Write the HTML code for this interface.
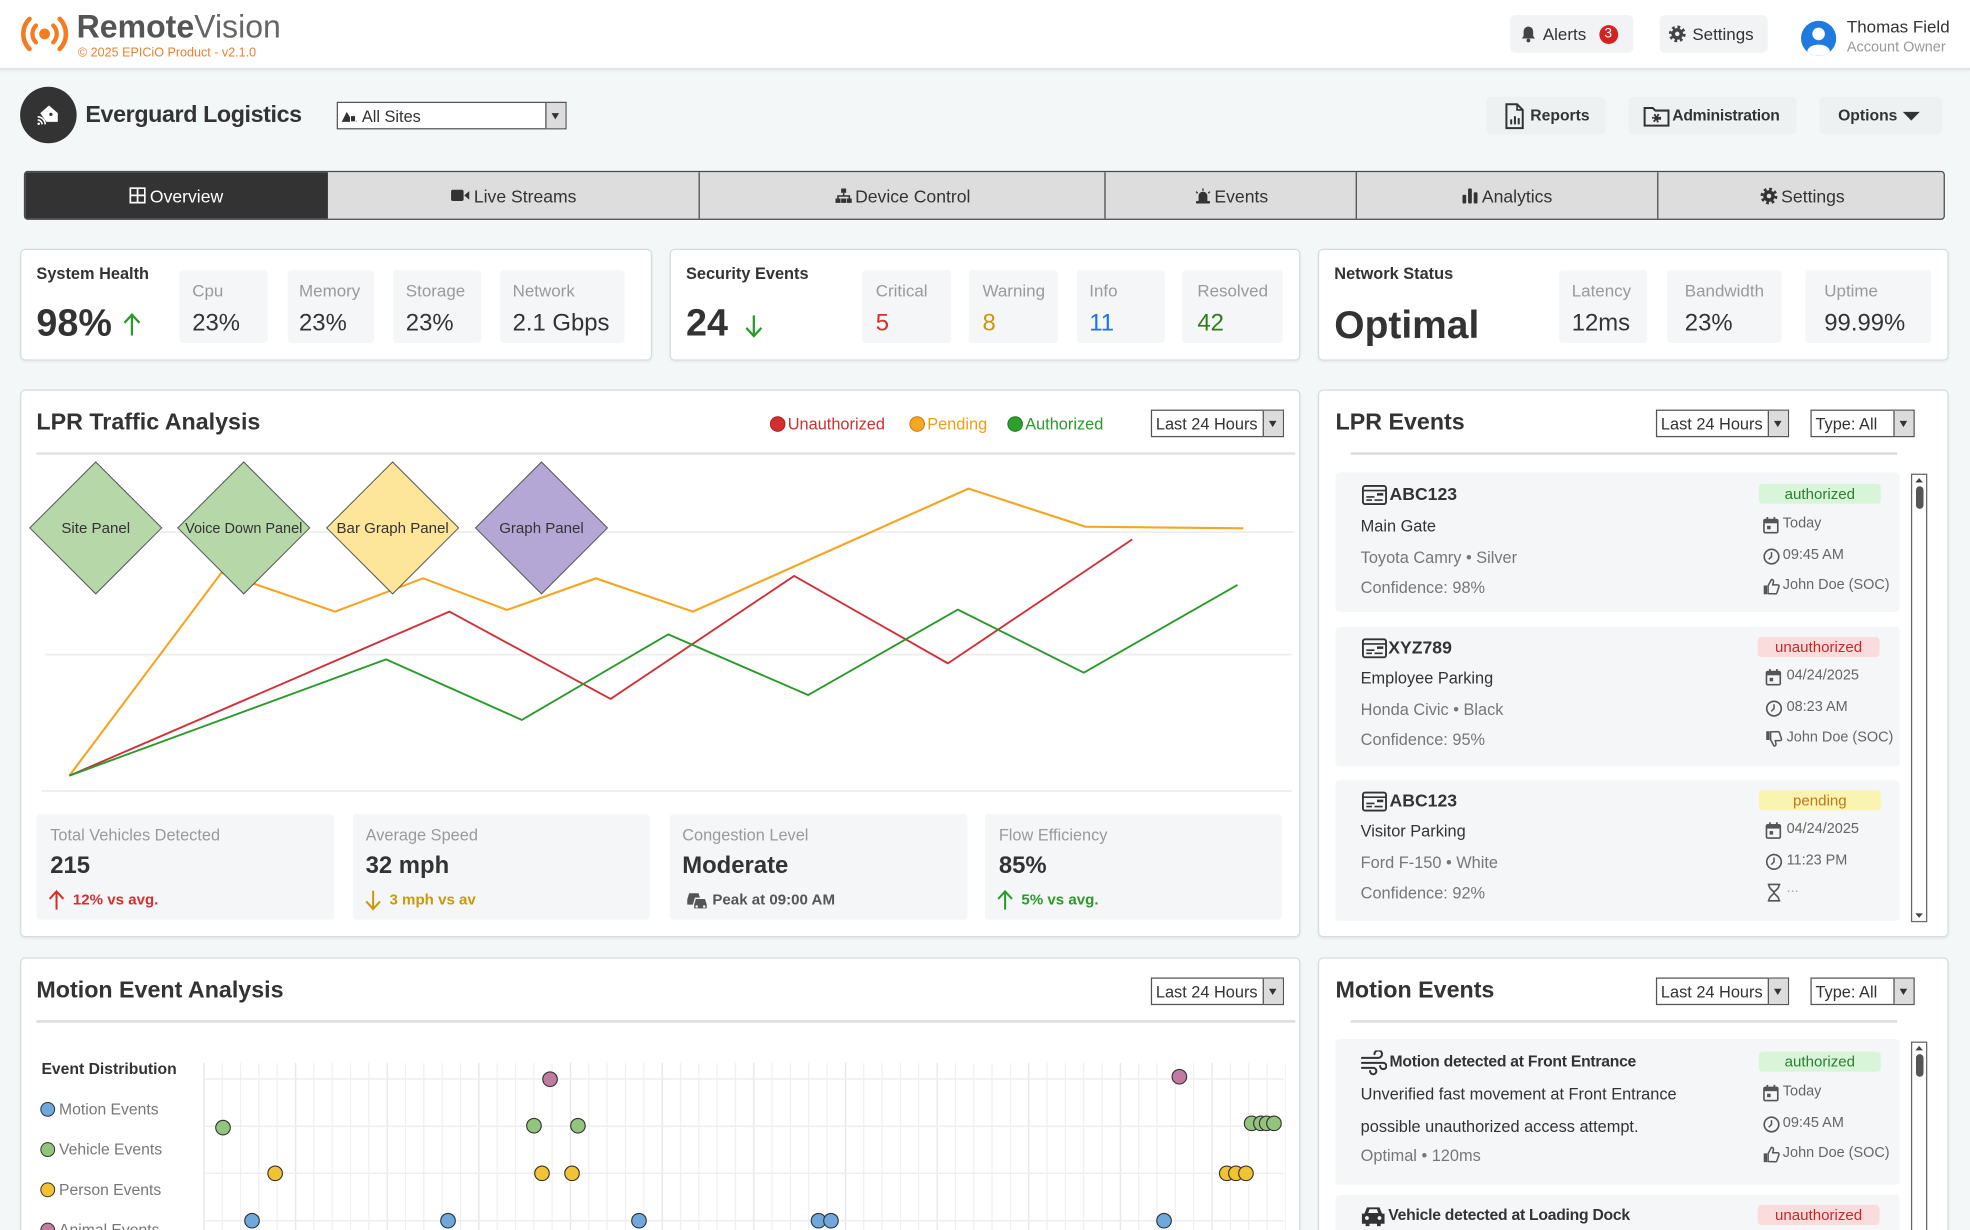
<!DOCTYPE html>
<html><head><meta charset="utf-8">
<style>
html,body{margin:0;padding:0;width:1970px;height:1229px;overflow:hidden;background:#f4f7f8;}
#w{position:absolute;left:0;top:0;width:1568px;height:979px;transform:scale(1.25638);transform-origin:0 0;font-family:"Liberation Sans",Arial,sans-serif;color:#333;overflow:hidden;}
.a{position:absolute;white-space:nowrap;line-height:1;}
.b{position:absolute;box-sizing:border-box;}
.panel{position:absolute;box-sizing:border-box;background:#fff;border:1px solid #d9dcde;border-radius:4px;box-shadow:0 1px 2px rgba(0,0,0,.06);}
.sub{position:absolute;background:#f4f6f7;border-radius:3px;}
.sel{position:absolute;box-sizing:border-box;border:1px solid #555;background:#fff;height:22px;font-size:13px;color:#333;}
.sel span{position:absolute;left:3px;top:4px;line-height:1;white-space:nowrap;}
.sel i{position:absolute;right:0;top:0;bottom:0;width:15px;background:#dcdcdc;border-left:1px solid #555;}
.sel i:after{content:"";position:absolute;left:3.5px;top:8px;border-left:3.5px solid transparent;border-right:3.5px solid transparent;border-top:5px solid #333;}
.lbl{font-size:13.5px;color:#9a9a9a;}
.val{font-size:19px;color:#333;}
.card{position:absolute;background:#f4f6f7;border-radius:3px;}
.badge{position:absolute;height:16px;border-radius:3px;font-size:12px;line-height:16px;text-align:center;}
.rt{font-size:11.5px;color:#666;}
.lt{font-size:13px;}
.tab{position:absolute;top:0;height:37px;display:flex;align-items:center;justify-content:center;font-size:14px;color:#333;gap:3px;}
</style></head>
<body>
<div id="w">

<!-- HEADER -->
<div class="b" style="left:0;top:0;width:1568px;height:56px;background:#fff;border-bottom:2px solid #e2e4e5;box-shadow:0 1px 3px rgba(0,0,0,.05)"></div>
<svg class="b" style="left:0;top:0" width="70" height="56">
<circle cx="35.5" cy="27" r="4.3" fill="#f47b20"/>
<path d="M28.6 20.3 A9.5 9.5 0 0 0 28.6 33.7 M42.4 20.3 A9.5 9.5 0 0 1 42.4 33.7" fill="none" stroke="#f47b20" stroke-width="3.4" stroke-linecap="round"/>
<path d="M23.5 15 A17 17 0 0 0 23.5 39 M47.5 15 A17 17 0 0 1 47.5 39" fill="none" stroke="#f47b20" stroke-width="3.6" stroke-linecap="round"/>
</svg>
<div class="a" style="left:61px;top:10px;font-size:25.5px;"><span style="font-weight:bold;color:#555">Remote</span><span style="color:#666">Vision</span></div>
<div class="a" style="left:62px;top:38px;font-size:10px;color:#ef7f2c">© 2025 EPICiO Product - v2.1.0</div>

<div class="b" style="left:1202px;top:12px;width:98px;height:30px;background:#f1f3f4;border-radius:4px"></div>
<svg class="b" style="left:1210px;top:20px" width="13" height="14"><path d="M6.5 1.2c-2.4 0-3.8 1.8-3.8 4.2v3.3L1.3 10.6h10.4L10.3 8.7V5.4c0-2.4-1.4-4.2-3.8-4.2z" fill="#444"/><circle cx="6.5" cy="12.2" r="1.5" fill="#444"/></svg>
<div class="a" style="left:1228px;top:20.5px;font-size:13.5px;color:#333">Alerts</div>
<div class="b" style="left:1272.5px;top:19.5px;width:15px;height:15px;border-radius:50%;background:#d32222;color:#fff;font-size:11px;line-height:15px;text-align:center">3</div>

<div class="b" style="left:1321px;top:12px;width:86px;height:30px;background:#f1f3f4;border-radius:4px"></div>
<svg class="b" style="left:1328px;top:20px" width="14" height="14"><circle cx="7" cy="7" r="5.4" fill="none" stroke="#444" stroke-width="2.6" stroke-dasharray="2.1 2.14"/><circle cx="7" cy="7" r="4.6" fill="#444"/><circle cx="7" cy="7" r="1.8" fill="#f1f3f4"/></svg>
<div class="a" style="left:1347px;top:20.5px;font-size:13.5px;color:#333">Settings</div>

<svg class="b" style="left:1433px;top:16px" width="29" height="29"><defs><clipPath id="av"><circle cx="14.5" cy="14.5" r="14"/></clipPath></defs><circle cx="14.5" cy="14.5" r="14" fill="#1f7ae0"/><g clip-path="url(#av)" fill="#fff"><circle cx="14.5" cy="11" r="5"/><ellipse cx="14.5" cy="25" rx="9" ry="5.5"/></g></svg>
<div class="a" style="left:1470px;top:15px;font-size:13.5px;color:#333">Thomas Field</div>
<div class="a" style="left:1470px;top:33px;font-size:11.5px;color:#9a9a9a">Account Owner</div>

<!-- ROW 2 -->
<div class="b" style="left:16px;top:69px;width:45px;height:45px;border-radius:50%;background:#333"></div>
<svg class="b" style="left:27px;top:81px" width="22" height="20"><path d="M5 9 L12 3 L19 9 L19 16 L10 16 Z" fill="#fff"/><circle cx="13.5" cy="10" r="1.3" fill="#333"/><path d="M3 12 a6 6 0 0 1 6 6 M3 14.5 a3.5 3.5 0 0 1 3.5 3.5" fill="none" stroke="#fff" stroke-width="1.3"/><circle cx="3.8" cy="17.5" r="1" fill="#fff"/></svg>
<div class="a" style="left:68px;top:82px;font-size:18.5px;font-weight:bold;color:#333;letter-spacing:-0.3px">Everguard Logistics</div>
<div class="sel" style="left:268px;top:81px;width:183px;"><span style="left:19px;font-size:13px">All Sites</span><i></i></div>
<svg class="b" style="left:271px;top:86px" width="14" height="12"><path d="M1 11 L5 3 L8 8 L10 5 L13 11 Z" fill="#333"/><rect x="8" y="6" width="4" height="5" fill="#333" stroke="#fff" stroke-width="0.8"/></svg>

<div class="b" style="left:1183px;top:77px;width:95px;height:30px;background:#eef1f2;border-radius:4px"></div>
<svg class="b" style="left:1198px;top:82px" width="15" height="21"><path d="M1 1 H9.5 L14 5.5 V20 H1 Z" fill="none" stroke="#333" stroke-width="1.6"/><path d="M9.5 1 V5.5 H14" fill="none" stroke="#333" stroke-width="1.3"/><rect x="4" y="13" width="1.6" height="4" fill="#333"/><rect x="7" y="10.5" width="1.6" height="6.5" fill="#333"/><rect x="10" y="12" width="1.6" height="5" fill="#333"/></svg>
<div class="a" style="left:1218px;top:85.5px;font-size:12.5px;font-weight:bold;color:#333">Reports</div>
<div class="b" style="left:1296px;top:77px;width:134px;height:30px;background:#eef1f2;border-radius:4px"></div>
<svg class="b" style="left:1308px;top:84px" width="21" height="17"><path d="M1 2 H7.5 L9.5 4 H20 V16 H1 Z" fill="none" stroke="#333" stroke-width="1.6"/><circle cx="10.5" cy="10" r="2.6" fill="none" stroke="#333" stroke-width="2" stroke-dasharray="1.3 1.2"/><circle cx="10.5" cy="10" r="2" fill="#333"/></svg>
<div class="a" style="left:1331px;top:85.5px;font-size:12.5px;font-weight:bold;color:#333;letter-spacing:-0.2px">Administration</div>
<div class="b" style="left:1448px;top:77px;width:98px;height:30px;background:#eef1f2;border-radius:4px"></div>
<div class="a" style="left:1463px;top:85.5px;font-size:12.5px;font-weight:bold;color:#333">Options</div>
<svg class="b" style="left:1514px;top:88px" width="15" height="9"><path d="M0.5 1 H14 L7.25 8 Z" fill="#333"/></svg>

<!-- TABS -->
<div class="b" style="left:19px;top:136px;width:1529px;height:39px;border:1px solid #4a4a4a;border-radius:3px;background:#dddddd;overflow:hidden">
 <div class="tab" style="left:0;width:241px;background:#333;color:#fff"><svg width="13" height="13"><rect x="0.7" y="0.7" width="11.6" height="11.6" fill="none" stroke="#fff" stroke-width="1.4"/><path d="M6.5 1V12M1 6.5H12" stroke="#fff" stroke-width="1.4"/></svg>Overview</div>
 <div class="tab" style="left:241px;width:296px"><svg width="15" height="11"><rect x="0" y="1" width="10" height="9" rx="1.5" fill="#333"/><path d="M10.5 5.5 L14.5 2 V9 Z" fill="#333"/></svg>Live Streams</div>
 <div class="b" style="left:536px;top:0;width:1px;height:39px;background:#4a4a4a"></div>
 <div class="tab" style="left:537px;width:323px"><svg width="13" height="12"><rect x="4.5" y="0" width="4" height="3.5" fill="#333"/><path d="M6.5 3.5V6M2 8V6H11V8" fill="none" stroke="#333" stroke-width="1.2"/><rect x="0" y="8" width="4" height="3.5" fill="#333"/><rect x="4.5" y="8" width="4" height="3.5" fill="#333"/><rect x="9" y="8" width="4" height="3.5" fill="#333"/></svg>Device Control</div>
 <div class="b" style="left:859px;top:0;width:1px;height:39px;background:#4a4a4a"></div>
 <div class="tab" style="left:860px;width:200px"><svg width="13" height="12"><path d="M3 10 V6 a3.5 3.5 0 0 1 7 0 V10 Z" fill="#333"/><rect x="1" y="10" width="11" height="2" fill="#333"/><path d="M6.5 0V1.8M1 2.5L2.3 3.8M12 2.5L10.7 3.8" stroke="#333" stroke-width="1.1"/></svg>Events</div>
 <div class="b" style="left:1059px;top:0;width:1px;height:39px;background:#4a4a4a"></div>
 <div class="tab" style="left:1060px;width:240px"><svg width="12" height="12"><rect x="0" y="5" width="3" height="7" rx="1" fill="#333"/><rect x="4.5" y="0" width="3" height="12" rx="1" fill="#333"/><rect x="9" y="3" width="3" height="9" rx="1" fill="#333"/></svg>Analytics</div>
 <div class="b" style="left:1299px;top:0;width:1px;height:39px;background:#4a4a4a"></div>
 <div class="tab" style="left:1300px;width:229px"><svg width="14" height="14"><circle cx="7" cy="7" r="5.4" fill="none" stroke="#333" stroke-width="2.6" stroke-dasharray="2.1 2.14"/><circle cx="7" cy="7" r="4.6" fill="#333"/><circle cx="7" cy="7" r="1.8" fill="#ddd"/></svg>Settings</div>
</div>

<!-- KPI CARDS -->
<div class="panel" style="left:16px;top:198px;width:503px;height:89px"></div>
<div class="panel" style="left:533px;top:198px;width:502px;height:89px"></div>
<div class="panel" style="left:1049px;top:198px;width:502px;height:89px"></div>

<div class="a" style="left:29px;top:210.5px;font-size:13px;font-weight:bold">System Health</div>
<div class="a" style="left:29px;top:243px;font-size:30px;font-weight:bold">98%</div>
<div class="sub" style="left:143px;top:215px;width:70px;height:58px"></div>
<div class="sub" style="left:229px;top:215px;width:69px;height:58px"></div>
<div class="sub" style="left:313px;top:215px;width:70px;height:58px"></div>
<div class="sub" style="left:398px;top:215px;width:99px;height:58px"></div>
<div class="a lbl" style="left:153px;top:225px">Cpu</div><div class="a val" style="left:153px;top:247.5px">23%</div>
<div class="a lbl" style="left:238px;top:225px">Memory</div><div class="a val" style="left:238px;top:247.5px">23%</div>
<div class="a lbl" style="left:323px;top:225px">Storage</div><div class="a val" style="left:323px;top:247.5px">23%</div>
<div class="a lbl" style="left:408px;top:225px">Network</div><div class="a val" style="left:408px;top:247.5px">2.1 Gbps</div>

<div class="a" style="left:546px;top:210.5px;font-size:13px;font-weight:bold">Security Events</div>
<div class="a" style="left:546px;top:243px;font-size:30px;font-weight:bold">24</div>
<div class="sub" style="left:686px;top:215px;width:71px;height:58px"></div>
<div class="sub" style="left:771px;top:215px;width:71px;height:58px"></div>
<div class="sub" style="left:857px;top:215px;width:70px;height:58px"></div>
<div class="sub" style="left:941px;top:215px;width:80px;height:58px"></div>
<div class="a lbl" style="left:697px;top:225px">Critical</div><div class="a val" style="left:697px;top:247.5px;color:#d32f2f">5</div>
<div class="a lbl" style="left:782px;top:225px">Warning</div><div class="a val" style="left:782px;top:247.5px;color:#c99a06">8</div>
<div class="a lbl" style="left:867px;top:225px">Info</div><div class="a val" style="left:867px;top:247.5px;color:#1a73e8">11</div>
<div class="a lbl" style="left:953px;top:225px">Resolved</div><div class="a val" style="left:953px;top:247.5px;color:#2e7d1e">42</div>

<div class="a" style="left:1062px;top:210.5px;font-size:13px;font-weight:bold">Network Status</div>
<div class="a" style="left:1062px;top:243px;font-size:31px;font-weight:bold">Optimal</div>
<div class="sub" style="left:1241px;top:215px;width:70px;height:58px"></div>
<div class="sub" style="left:1327px;top:215px;width:91px;height:58px"></div>
<div class="sub" style="left:1437px;top:215px;width:100px;height:58px"></div>
<div class="a lbl" style="left:1251px;top:225px">Latency</div><div class="a val" style="left:1251px;top:247.5px">12ms</div>
<div class="a lbl" style="left:1341px;top:225px">Bandwidth</div><div class="a val" style="left:1341px;top:247.5px">23%</div>
<div class="a lbl" style="left:1452px;top:225px">Uptime</div><div class="a val" style="left:1452px;top:247.5px">99.99%</div>

<!-- LPR TRAFFIC PANEL -->
<div class="panel" style="left:16px;top:310px;width:1019px;height:436px"></div>
<div class="a" style="left:29px;top:326.5px;font-size:18.5px;font-weight:bold">LPR Traffic Analysis</div>
<div class="a" style="left:627px;top:331px;font-size:13px;color:#d32f2f">Unauthorized</div>
<div class="a" style="left:738px;top:331px;font-size:13px;color:#f29d12">Pending</div>
<div class="a" style="left:816px;top:331px;font-size:13px;color:#2a9a2a">Authorized</div>
<div class="sel" style="left:916px;top:326px;width:106px"><span>Last 24 Hours</span><i></i></div>
<div class="b" style="left:29px;top:360px;width:1002px;height:2px;background:#e2e2e2"></div>

<div class="sub" style="left:29px;top:648px;width:237px;height:84px"></div>
<div class="sub" style="left:281px;top:648px;width:236px;height:84px"></div>
<div class="sub" style="left:533px;top:648px;width:237px;height:84px"></div>
<div class="sub" style="left:784px;top:648px;width:236px;height:84px"></div>
<div class="a" style="left:40px;top:657.5px;font-size:13px;color:#9a9a9a">Total Vehicles Detected</div>
<div class="a" style="left:40px;top:679.5px;font-size:19px;font-weight:bold">215</div>
<div class="a" style="left:58px;top:710px;font-size:12px;font-weight:bold;color:#d32f2f">12% vs avg.</div>
<div class="a" style="left:291px;top:657.5px;font-size:13px;color:#9a9a9a">Average Speed</div>
<div class="a" style="left:291px;top:679.5px;font-size:19px;font-weight:bold">32 mph</div>
<div class="a" style="left:310px;top:710px;font-size:12px;font-weight:bold;color:#c99a06">3 mph vs av</div>
<div class="a" style="left:543px;top:657.5px;font-size:13px;color:#9a9a9a">Congestion Level</div>
<div class="a" style="left:543px;top:679.5px;font-size:19px;font-weight:bold">Moderate</div>
<svg class="b" style="left:545px;top:707px" width="21" height="17"><path d="M2 9 L3.5 4 H11 L12.5 9 V13 H2 Z" fill="#555"/><path d="M7 13 L8.5 8 H16.5 L18 13 V16.5 H7 Z" fill="#555" stroke="#f4f6f7" stroke-width="1"/><circle cx="9.5" cy="14.5" r="1" fill="#f4f6f7"/><circle cx="15.5" cy="14.5" r="1" fill="#f4f6f7"/></svg>
<div class="a" style="left:567px;top:709.5px;font-size:12px;font-weight:bold;color:#555">Peak at 09:00 AM</div>
<div class="a" style="left:795px;top:657.5px;font-size:13px;color:#9a9a9a">Flow Efficiency</div>
<div class="a" style="left:795px;top:679.5px;font-size:19px;font-weight:bold">85%</div>
<div class="a" style="left:813px;top:710px;font-size:12px;font-weight:bold;color:#2a9a2a">5% vs avg.</div>

<!-- LPR EVENTS PANEL -->
<div class="panel" style="left:1049px;top:310px;width:502px;height:436px"></div>
<div class="a" style="left:1063px;top:326.5px;font-size:18.5px;font-weight:bold">LPR Events</div>
<div class="sel" style="left:1318px;top:326px;width:106px"><span>Last 24 Hours</span><i></i></div>
<div class="sel" style="left:1441px;top:326px;width:83px"><span>Type: All</span><i></i></div>
<div class="b" style="left:1075px;top:360px;width:435px;height:1.5px;background:#dcdcdc"></div>

<div class="card" style="left:1063px;top:376px;width:449px;height:111px"></div>
<div class="card" style="left:1063px;top:499px;width:449px;height:111px"></div>
<div class="card" style="left:1063px;top:621px;width:449px;height:112px"></div>

<!-- card 1 -->
<svg class="b" style="left:1084px;top:386px" width="20" height="16"><rect x="0.8" y="0.8" width="18.4" height="14.4" rx="1.8" fill="none" stroke="#333" stroke-width="1.5"/><path d="M1 4.5H19" stroke="#333" stroke-width="1.3"/><rect x="12" y="6.5" width="5" height="2" fill="#333"/><path d="M3.5 9.5H10M3.5 12H8M10 12H16.5" stroke="#333" stroke-width="1.3"/></svg>
<div class="a" style="left:1106px;top:386px;font-size:14px;font-weight:bold">ABC123</div>
<div class="badge" style="left:1400px;top:385px;width:97px;background:#d8f5da;color:#2e7d32">authorized</div>
<div class="a lt" style="left:1083px;top:411.5px;color:#333">Main Gate</div>
<div class="a lt" style="left:1083px;top:436.5px;color:#777">Toyota Camry • Silver</div>
<div class="a lt" style="left:1083px;top:460.5px;color:#777">Confidence: 98%</div>
<div class="a rt" style="left:1419px;top:412px">Today</div>
<div class="a rt" style="left:1419px;top:437px">09:45 AM</div>
<div class="a rt" style="left:1419px;top:461px">John Doe (SOC)</div>

<!-- card 2 -->
<svg class="b" style="left:1084px;top:508px" width="20" height="16"><rect x="0.8" y="0.8" width="18.4" height="14.4" rx="1.8" fill="none" stroke="#333" stroke-width="1.5"/><path d="M1 4.5H19" stroke="#333" stroke-width="1.3"/><rect x="12" y="6.5" width="5" height="2" fill="#333"/><path d="M3.5 9.5H10M3.5 12H8M10 12H16.5" stroke="#333" stroke-width="1.3"/></svg>
<div class="a" style="left:1105px;top:508px;font-size:14px;font-weight:bold">XYZ789</div>
<div class="badge" style="left:1399px;top:507px;width:97px;background:#fbdcdc;color:#c62828">unauthorized</div>
<div class="a lt" style="left:1083px;top:532.5px;color:#333">Employee Parking</div>
<div class="a lt" style="left:1083px;top:557.5px;color:#777">Honda Civic • Black</div>
<div class="a lt" style="left:1083px;top:581.5px;color:#777">Confidence: 95%</div>
<div class="a rt" style="left:1422px;top:533px">04/24/2025</div>
<div class="a rt" style="left:1422px;top:558px">08:23 AM</div>
<div class="a rt" style="left:1422px;top:582px">John Doe (SOC)</div>

<!-- card 3 -->
<svg class="b" style="left:1084px;top:630px" width="20" height="16"><rect x="0.8" y="0.8" width="18.4" height="14.4" rx="1.8" fill="none" stroke="#333" stroke-width="1.5"/><path d="M1 4.5H19" stroke="#333" stroke-width="1.3"/><rect x="12" y="6.5" width="5" height="2" fill="#333"/><path d="M3.5 9.5H10M3.5 12H8M10 12H16.5" stroke="#333" stroke-width="1.3"/></svg>
<div class="a" style="left:1106px;top:630px;font-size:14px;font-weight:bold">ABC123</div>
<div class="badge" style="left:1400px;top:629px;width:97px;background:#f9f5b0;color:#c0761a">pending</div>
<div class="a lt" style="left:1083px;top:654.5px;color:#333">Visitor Parking</div>
<div class="a lt" style="left:1083px;top:679.5px;color:#777">Ford F-150 • White</div>
<div class="a lt" style="left:1083px;top:703.5px;color:#777">Confidence: 92%</div>
<div class="a rt" style="left:1422px;top:655px">04/24/2025</div>
<div class="a rt" style="left:1422px;top:680px">11:23 PM</div>
<div class="a rt" style="left:1422px;top:702px;color:#aaa">...</div>

<!-- right column icons (LPR) -->
<svg class="b" style="left:1403px;top:411px" width="13" height="14"><rect x="1" y="2.5" width="11" height="10.5" rx="1" fill="none" stroke="#555" stroke-width="1.3"/><rect x="1" y="2.5" width="11" height="3" fill="#555"/><rect x="3" y="0.5" width="1.4" height="3" fill="#555"/><rect x="8.6" y="0.5" width="1.4" height="3" fill="#555"/><rect x="3.5" y="7.5" width="2.8" height="2.8" fill="#555"/></svg>
<svg class="b" style="left:1403px;top:436px" width="14" height="14"><circle cx="7" cy="7" r="5.8" fill="none" stroke="#555" stroke-width="1.3"/><path d="M7 3.5V7L4.8 9.2" fill="none" stroke="#555" stroke-width="1.2"/></svg>
<svg class="b" style="left:1403px;top:460px" width="14" height="14"><rect x="0.8" y="6" width="2.7" height="7" fill="#555"/><path d="M4.3 12.5V6.2L7 1.2c1.2 0 1.8.9 1.5 2.2L8 5.5H11.8c.9 0 1.4.8 1.1 1.6l-1.6 4.8c-.2.5-.6.8-1.1.8Z" fill="none" stroke="#555" stroke-width="1.2"/></svg>
<svg class="b" style="left:1405px;top:532px" width="13" height="14"><rect x="1" y="2.5" width="11" height="10.5" rx="1" fill="none" stroke="#555" stroke-width="1.3"/><rect x="1" y="2.5" width="11" height="3" fill="#555"/><rect x="3" y="0.5" width="1.4" height="3" fill="#555"/><rect x="8.6" y="0.5" width="1.4" height="3" fill="#555"/><rect x="3.5" y="7.5" width="2.8" height="2.8" fill="#555"/></svg>
<svg class="b" style="left:1405px;top:557px" width="14" height="14"><circle cx="7" cy="7" r="5.8" fill="none" stroke="#555" stroke-width="1.3"/><path d="M7 3.5V7L4.8 9.2" fill="none" stroke="#555" stroke-width="1.2"/></svg>
<svg class="b" style="left:1405px;top:581px" width="14" height="14"><g transform="translate(0,14) scale(1,-1)"><rect x="0.8" y="6" width="2.7" height="7" fill="#555"/><path d="M4.3 12.5V6.2L7 1.2c1.2 0 1.8.9 1.5 2.2L8 5.5H11.8c.9 0 1.4.8 1.1 1.6l-1.6 4.8c-.2.5-.6.8-1.1.8Z" fill="none" stroke="#555" stroke-width="1.2"/></g></svg>
<svg class="b" style="left:1405px;top:654px" width="13" height="14"><rect x="1" y="2.5" width="11" height="10.5" rx="1" fill="none" stroke="#555" stroke-width="1.3"/><rect x="1" y="2.5" width="11" height="3" fill="#555"/><rect x="3" y="0.5" width="1.4" height="3" fill="#555"/><rect x="8.6" y="0.5" width="1.4" height="3" fill="#555"/><rect x="3.5" y="7.5" width="2.8" height="2.8" fill="#555"/></svg>
<svg class="b" style="left:1405px;top:679px" width="14" height="14"><circle cx="7" cy="7" r="5.8" fill="none" stroke="#555" stroke-width="1.3"/><path d="M7 3.5V7L4.8 9.2" fill="none" stroke="#555" stroke-width="1.2"/></svg>
<svg class="b" style="left:1406px;top:703px" width="12" height="15"><path d="M1 1H11M1 14H11M2 1.5C2 5 6 6 6 7.5S2 10 2 13.5M10 1.5C10 5 6 6 6 7.5S10 10 10 13.5" fill="none" stroke="#555" stroke-width="1.3"/></svg>

<!-- scrollbar LPR -->
<div class="b" style="left:1521px;top:377px;width:13px;height:357px;border:1px solid #666;background:#fff"></div>
<div class="b" style="left:1524.5px;top:387px;width:6px;height:18px;border-radius:3px;background:#555"></div>
<svg class="b" style="left:1521px;top:379px" width="13" height="6"><path d="M3.5 5H9.5L6.5 1.5Z" fill="#444"/></svg>
<svg class="b" style="left:1521px;top:726px" width="13" height="6"><path d="M3.5 1H9.5L6.5 4.5Z" fill="#444"/></svg>

<!-- MOTION EVENT ANALYSIS -->
<div class="panel" style="left:16px;top:762px;width:1019px;height:260px"></div>
<div class="a" style="left:29px;top:778.5px;font-size:18.5px;font-weight:bold">Motion Event Analysis</div>
<div class="sel" style="left:916px;top:778px;width:106px"><span>Last 24 Hours</span><i></i></div>
<div class="b" style="left:29px;top:812px;width:1002px;height:1.5px;background:#dcdcdc"></div>
<div class="a" style="left:33px;top:844.5px;font-size:12.5px;font-weight:bold">Event Distribution</div>
<div class="a" style="left:47px;top:877px;font-size:12.5px;color:#777">Motion Events</div>
<div class="a" style="left:47px;top:909px;font-size:12.5px;color:#777">Vehicle Events</div>
<div class="a" style="left:47px;top:941px;font-size:12.5px;color:#777">Person Events</div>
<div class="a" style="left:47px;top:973px;font-size:12.5px;color:#777">Animal Events</div>

<!-- MOTION EVENTS PANEL -->
<div class="panel" style="left:1049px;top:762px;width:502px;height:260px"></div>
<div class="a" style="left:1063px;top:778.5px;font-size:18.5px;font-weight:bold">Motion Events</div>
<div class="sel" style="left:1318px;top:778px;width:106px"><span>Last 24 Hours</span><i></i></div>
<div class="sel" style="left:1441px;top:778px;width:83px"><span>Type: All</span><i></i></div>
<div class="b" style="left:1075px;top:812px;width:435px;height:1.5px;background:#dcdcdc"></div>
<div class="card" style="left:1063px;top:827px;width:449px;height:116px"></div>
<div class="card" style="left:1063px;top:951px;width:449px;height:60px"></div>
<svg class="b" style="left:1083px;top:836px" width="21" height="20"><path d="M1 6H14a3 3 0 1 0-3-3M1 10H18a2.5 2.5 0 1 1-2.5 2.5M1 14H10a2.5 2.5 0 1 1-2.5 2.5" fill="none" stroke="#333" stroke-width="1.6" stroke-linecap="round"/></svg>
<div class="a" style="left:1106px;top:838.5px;font-size:12.5px;font-weight:bold;letter-spacing:-0.2px">Motion detected at Front Entrance</div>
<div class="badge" style="left:1400px;top:837px;width:97px;background:#d8f5da;color:#2e7d32">authorized</div>
<div class="a lt" style="left:1083px;top:863.5px;color:#333">Unverified fast movement at Front Entrance</div>
<div class="a lt" style="left:1083px;top:889.5px;color:#333">possible unauthorized access attempt.</div>
<div class="a lt" style="left:1083px;top:912.5px;color:#777">Optimal • 120ms</div>
<svg class="b" style="left:1403px;top:863px" width="13" height="14"><rect x="1" y="2.5" width="11" height="10.5" rx="1" fill="none" stroke="#555" stroke-width="1.3"/><rect x="1" y="2.5" width="11" height="3" fill="#555"/><rect x="3" y="0.5" width="1.4" height="3" fill="#555"/><rect x="8.6" y="0.5" width="1.4" height="3" fill="#555"/><rect x="3.5" y="7.5" width="2.8" height="2.8" fill="#555"/></svg>
<svg class="b" style="left:1403px;top:888px" width="14" height="14"><circle cx="7" cy="7" r="5.8" fill="none" stroke="#555" stroke-width="1.3"/><path d="M7 3.5V7L4.8 9.2" fill="none" stroke="#555" stroke-width="1.2"/></svg>
<svg class="b" style="left:1403px;top:912px" width="14" height="14"><rect x="0.8" y="6" width="2.7" height="7" fill="#555"/><path d="M4.3 12.5V6.2L7 1.2c1.2 0 1.8.9 1.5 2.2L8 5.5H11.8c.9 0 1.4.8 1.1 1.6l-1.6 4.8c-.2.5-.6.8-1.1.8Z" fill="none" stroke="#555" stroke-width="1.2"/></svg>
<div class="a rt" style="left:1419px;top:864px">Today</div>
<div class="a rt" style="left:1419px;top:889px">09:45 AM</div>
<div class="a rt" style="left:1419px;top:913px">John Doe (SOC)</div>
<svg class="b" style="left:1083px;top:959px" width="20" height="17"><path d="M3 7 L5 2 H15 L17 7 H19 V15 H16 V17 H13 V15 H7 V17 H4 V15 H1 V7 Z" fill="#333"/><circle cx="5" cy="10.5" r="1.5" fill="#f4f6f7"/><circle cx="15" cy="10.5" r="1.5" fill="#f4f6f7"/><path d="M6 6.5 L7 3.5 H13 L14 6.5 Z" fill="#f4f6f7"/></svg>
<div class="a" style="left:1105px;top:960.5px;font-size:12.5px;font-weight:bold;letter-spacing:-0.2px">Vehicle detected at Loading Dock</div>
<div class="badge" style="left:1399px;top:959px;width:97px;background:#fbdcdc;color:#c62828">unauthorized</div>
<div class="b" style="left:1521px;top:829px;width:13px;height:160px;border:1px solid #666;background:#fff"></div>
<div class="b" style="left:1524.5px;top:839px;width:6px;height:18px;border-radius:3px;background:#555"></div>
<svg class="b" style="left:1521px;top:831px" width="13" height="6"><path d="M3.5 5H9.5L6.5 1.5Z" fill="#444"/></svg>

<!-- OVERLAY SVG: charts, arrows, dots -->
<svg class="b" style="left:0;top:0" width="1568" height="979">
<defs>
<pattern id="vg" x="161.8" y="0" width="14.59" height="979" patternUnits="userSpaceOnUse"><rect x="0" y="0" width="0.9" height="979" fill="#eeeeee"/></pattern>
<pattern id="vg2" x="161.8" y="0" width="72.95" height="979" patternUnits="userSpaceOnUse"><rect x="0" y="0" width="1" height="979" fill="#e7e7e7"/></pattern>
</defs>
<!-- KPI arrows -->
<path d="M105 267V251M99 257L105 250.5L111 257" fill="none" stroke="#2a9a2a" stroke-width="1.8"/>
<path d="M600 251V267M594 261L600 267.5L606 261" fill="none" stroke="#2a9a2a" stroke-width="1.8"/>
<!-- stats arrows -->
<path d="M45 724V710M39.5 715.5L45 709.5L50.5 715.5" fill="none" stroke="#d32f2f" stroke-width="1.6"/>
<path d="M297 709V723M291.5 717.5L297 723.5L302.5 717.5" fill="none" stroke="#c99a06" stroke-width="1.6"/>
<path d="M800 724V710M794.5 715.5L800 709.5L805.5 715.5" fill="none" stroke="#2a9a2a" stroke-width="1.6"/>
<!-- legend dots -->
<circle cx="619" cy="337.5" r="5.8" fill="#d32f2f" stroke="#a82020" stroke-width="0.8"/>
<circle cx="730" cy="337.5" r="5.8" fill="#f5a623" stroke="#c07d10" stroke-width="0.8"/>
<circle cx="808" cy="337.5" r="5.8" fill="#2ca02c" stroke="#1c7a1c" stroke-width="0.8"/>
<!-- LPR gridlines -->
<path d="M30 423.5H1030M36 521H1028M33 629.6H1028" stroke="#ededed" stroke-width="1.4"/>
<!-- series -->
<polyline points="55.2,617.4 176.3,455.8 266.7,486.8 336.8,460.3 403.6,485.5 474.3,460.3 551.5,486.8 770.9,388.9 863.9,419.2 989.6,420.5" fill="none" stroke="#f5a623" stroke-width="1.7" stroke-linejoin="round"/>
<polyline points="55.2,617.4 357.7,486.8 486,556.3 632.1,458.4 754.5,528 901.2,429.3" fill="none" stroke="#d0303a" stroke-width="1.5" stroke-linejoin="round"/>
<polyline points="55.2,617.4 307.3,524.8 415.3,573 531.9,504.9 643.2,553.2 762.4,485.2 862.6,535.4 985,465.6" fill="none" stroke="#2a9a2a" stroke-width="1.5" stroke-linejoin="round"/>
<!-- diamonds -->
<g stroke="#555" stroke-width="0.8" font-family="Liberation Sans, Arial, sans-serif" font-size="12" text-anchor="middle">
<polygon points="76.2,367.7 128.7,420.2 76.2,472.7 23.7,420.2" fill="#b6d7a8"/>
<polygon points="194,367.7 246.5,420.2 194,472.7 141.5,420.2" fill="#b6d7a8"/>
<polygon points="312.5,367.7 365,420.2 312.5,472.7 260,420.2" fill="#fde59a"/>
<polygon points="431,367.7 483.5,420.2 431,472.7 378.5,420.2" fill="#b4a7d6"/>
<g stroke="none" fill="#333">
<text x="76.2" y="424.3">Site Panel</text>
<text x="194" y="424.3" font-size="11.5">Voice Down Panel</text>
<text x="312.5" y="424.3">Bar Graph Panel</text>
<text x="431" y="424.3">Graph Panel</text>
</g>
</g>
<!-- motion legend circles -->
<g stroke="#333" stroke-width="0.8">
<circle cx="38" cy="883" r="5.5" fill="#6fa8dc"/>
<circle cx="38" cy="915" r="5.5" fill="#93c47d"/>
<circle cx="38" cy="947" r="5.5" fill="#f1c232"/>
<circle cx="38" cy="979" r="5.5" fill="#c27ba0"/>
</g>
<!-- motion grid -->
<rect x="161.3" y="846" width="862" height="140" fill="url(#vg)"/>
<rect x="161.3" y="846" width="862" height="140" fill="url(#vg2)"/>
<path d="M162 858.8H1022M162 896.4H1022M162 933.9H1022M162 971.6H1022" stroke="#eeeeee" stroke-width="1.2"/>
<g stroke="#333" stroke-width="0.9">
<circle cx="437.8" cy="859" r="5.8" fill="#c27ba0"/>
<circle cx="938.7" cy="857" r="5.8" fill="#c27ba0"/>
<circle cx="177.5" cy="897.5" r="5.8" fill="#93c47d"/>
<circle cx="425" cy="896" r="5.8" fill="#93c47d"/>
<circle cx="460" cy="896" r="5.8" fill="#93c47d"/>
<circle cx="996.2" cy="894.1" r="5.8" fill="#93c47d"/>
<circle cx="1003.6" cy="894.1" r="5.8" fill="#93c47d"/>
<circle cx="1008.2" cy="894.1" r="5.8" fill="#93c47d"/>
<circle cx="1014" cy="894.1" r="5.8" fill="#93c47d"/>
<circle cx="219" cy="933.9" r="5.8" fill="#f1c232"/>
<circle cx="431.4" cy="933.9" r="5.8" fill="#f1c232"/>
<circle cx="455.3" cy="933.9" r="5.8" fill="#f1c232"/>
<circle cx="976.4" cy="933.9" r="5.8" fill="#f1c232"/>
<circle cx="983.7" cy="933.9" r="5.8" fill="#f1c232"/>
<circle cx="991.7" cy="933.9" r="5.8" fill="#f1c232"/>
<circle cx="200.6" cy="971.6" r="5.8" fill="#6fa8dc"/>
<circle cx="356.6" cy="971.6" r="5.8" fill="#6fa8dc"/>
<circle cx="508.6" cy="971.6" r="5.8" fill="#6fa8dc"/>
<circle cx="651.5" cy="971.6" r="5.8" fill="#6fa8dc"/>
<circle cx="661.4" cy="971.6" r="5.8" fill="#6fa8dc"/>
<circle cx="926.5" cy="971.6" r="5.8" fill="#6fa8dc"/>
</g>
</svg>

</div>
</body></html>
